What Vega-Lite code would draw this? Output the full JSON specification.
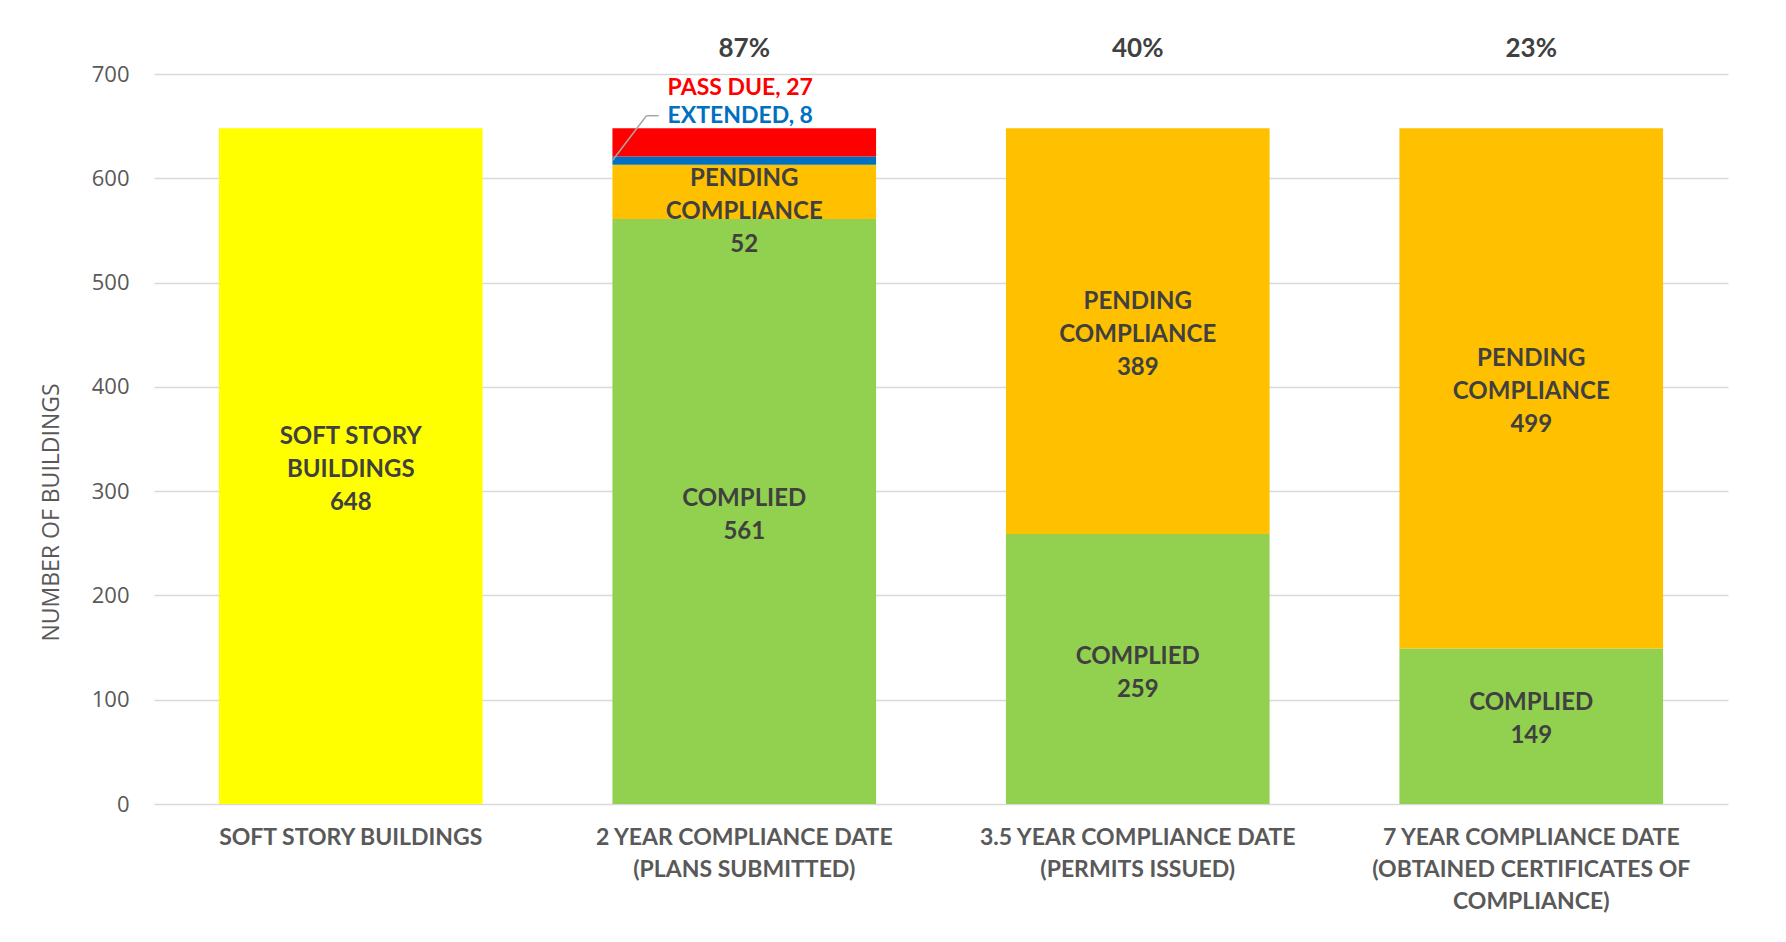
{
  "$schema": "https://vega.github.io/schema/vega-lite/v6.json",
  "width": 1574,
  "height": 730,
  "autosize": {"type": "none"},
  "padding": {"left": 154, "top": 74, "right": 58, "bottom": 138},
  "background": "white",
  "config": {"view": {"stroke": null}, "font": "Lato"},
  "datasets": {
    "bars": [
      {"cat": "SOFT STORY BUILDINGS", "status": "SOFT STORY BUILDINGS", "value": 648, "ord": 0, "label": "SOFT STORY|BUILDINGS|648"},
      {"cat": "2 YEAR COMPLIANCE DATE|(PLANS SUBMITTED)", "status": "COMPLIED", "value": 561, "ord": 1, "label": "COMPLIED|561"},
      {"cat": "2 YEAR COMPLIANCE DATE|(PLANS SUBMITTED)", "status": "PENDING COMPLIANCE", "value": 52, "ord": 2, "label": "PENDING|COMPLIANCE|52"},
      {"cat": "2 YEAR COMPLIANCE DATE|(PLANS SUBMITTED)", "status": "EXTENDED", "value": 8, "ord": 3, "label": ""},
      {"cat": "2 YEAR COMPLIANCE DATE|(PLANS SUBMITTED)", "status": "PASS DUE", "value": 27, "ord": 4, "label": ""},
      {"cat": "3.5 YEAR COMPLIANCE DATE|(PERMITS ISSUED)", "status": "COMPLIED", "value": 259, "ord": 1, "label": "COMPLIED|259"},
      {"cat": "3.5 YEAR COMPLIANCE DATE|(PERMITS ISSUED)", "status": "PENDING COMPLIANCE", "value": 389, "ord": 2, "label": "PENDING|COMPLIANCE|389"},
      {"cat": "7 YEAR COMPLIANCE DATE|(OBTAINED CERTIFICATES OF|COMPLIANCE)", "status": "COMPLIED", "value": 149, "ord": 1, "label": "COMPLIED|149"},
      {"cat": "7 YEAR COMPLIANCE DATE|(OBTAINED CERTIFICATES OF|COMPLIANCE)", "status": "PENDING COMPLIANCE", "value": 499, "ord": 2, "label": "PENDING|COMPLIANCE|499"}
    ],
    "pct": [
      {"cat": "2 YEAR COMPLIANCE DATE|(PLANS SUBMITTED)", "text": "87%"},
      {"cat": "3.5 YEAR COMPLIANCE DATE|(PERMITS ISSUED)", "text": "40%"},
      {"cat": "7 YEAR COMPLIANCE DATE|(OBTAINED CERTIFICATES OF|COMPLIANCE)", "text": "23%"}
    ],
    "notes": [
      {"cat": "2 YEAR COMPLIANCE DATE|(PLANS SUBMITTED)", "status": "PASS DUE", "text": "PASS DUE, 27", "at": 687},
      {"cat": "2 YEAR COMPLIANCE DATE|(PLANS SUBMITTED)", "status": "EXTENDED", "text": "EXTENDED, 8", "at": 660}
    ],
    "leader": [
      {"cat": "2 YEAR COMPLIANCE DATE|(PLANS SUBMITTED)", "v": 617, "v2": 660},
      {"cat": "2 YEAR COMPLIANCE DATE|(PLANS SUBMITTED)", "v": 660, "v2": 660}
    ]
  },
  "encoding": {
    "x": {
      "field": "cat", "type": "nominal",
      "scale": {
        "domain": ["SOFT STORY BUILDINGS", "2 YEAR COMPLIANCE DATE|(PLANS SUBMITTED)", "3.5 YEAR COMPLIANCE DATE|(PERMITS ISSUED)", "7 YEAR COMPLIANCE DATE|(OBTAINED CERTIFICATES OF|COMPLIANCE)"],
        "paddingInner": 0.33, "paddingOuter": 0.165
      },
      "axis": {
        "title": null, "domain": false, "ticks": false, "labelAngle": 0,
        "labelFont": "Lato", "labelFontWeight": "bold", "labelFontSize": 23,
        "labelColor": "#595959", "labelPadding": 22, "labelLineHeight": 32,
        "labelExpr": "split(datum.label, '|')", "labelLimit": 500
      }
    }
  },
  "layer": [
    {
      "data": {"name": "bars"},
      "mark": {"type": "bar"},
      "encoding": {
        "y": {
          "field": "value", "type": "quantitative", "stack": "zero",
          "scale": {"domain": [0, 700], "nice": false},
          "axis": {
            "values": [0, 100, 200, 300, 400, 500, 600, 700],
            "grid": true, "gridColor": "#d9d9d9", "gridWidth": 1.5,
            "domain": false, "ticks": false,
            "labelFont": "Open Sans", "labelFontSize": 22, "labelColor": "#595959", "labelPadding": 25,
            "title": "NUMBER OF BUILDINGS", "titleFont": "Open Sans", "titleFontSize": 23,
            "titleFontWeight": "normal", "titleColor": "#595959",
            "titleX": -103, "titleY": 438, "titleAngle": -90, "titleAlign": "center", "titleBaseline": "middle"
          }
        },
        "color": {
          "field": "status", "type": "nominal", "legend": null,
          "scale": {
            "domain": ["SOFT STORY BUILDINGS", "COMPLIED", "PENDING COMPLIANCE", "EXTENDED", "PASS DUE"],
            "range": ["#FFFF00", "#92D050", "#FFC000", "#0070C0", "#FF0000"]
          }
        },
        "order": {"field": "ord", "type": "quantitative"}
      }
    },
    {
      "data": {"name": "bars"},
      "transform": [
        {"stack": "value", "groupby": ["cat"], "sort": [{"field": "ord", "order": "ascending"}], "as": ["v0", "v1"]},
        {"calculate": "(datum.v0 + datum.v1) / 2", "as": "mid"},
        {"filter": "length(split(datum.label, '|')) == 3 && datum.value != 52"}
      ],
      "mark": {"type": "text", "lineBreak": "|", "fontSize": 24, "fontWeight": "bold", "font": "Lato", "fill": "#404040", "baseline": "middle", "lineHeight": 33, "dy": -29},
      "encoding": {
        "y": {"field": "mid", "type": "quantitative", "title": "NUMBER OF BUILDINGS"},
        "text": {"field": "label"}
      }
    },
    {
      "data": {"name": "bars"},
      "transform": [
        {"stack": "value", "groupby": ["cat"], "sort": [{"field": "ord", "order": "ascending"}], "as": ["v0", "v1"]},
        {"calculate": "(datum.v0 + datum.v1) / 2", "as": "mid"},
        {"filter": "length(split(datum.label, '|')) == 2 && datum.value != 149"}
      ],
      "mark": {"type": "text", "lineBreak": "|", "fontSize": 24, "fontWeight": "bold", "font": "Lato", "fill": "#404040", "baseline": "middle", "lineHeight": 33, "dy": -12},
      "encoding": {
        "y": {"field": "mid", "type": "quantitative", "title": "NUMBER OF BUILDINGS"},
        "text": {"field": "label"}
      }
    },
    {
      "data": {"name": "bars"},
      "transform": [
        {"stack": "value", "groupby": ["cat"], "sort": [{"field": "ord", "order": "ascending"}], "as": ["v0", "v1"]},
        {"calculate": "(datum.v0 + datum.v1) / 2", "as": "mid"},
        {"filter": "datum.value == 149"}
      ],
      "mark": {"type": "text", "lineBreak": "|", "fontSize": 24, "fontWeight": "bold", "font": "Lato", "fill": "#404040", "baseline": "middle", "lineHeight": 33, "dy": -23},
      "encoding": {
        "y": {"field": "mid", "type": "quantitative", "title": "NUMBER OF BUILDINGS"},
        "text": {"field": "label"}
      }
    },
    {
      "data": {"name": "bars"},
      "transform": [
        {"stack": "value", "groupby": ["cat"], "sort": [{"field": "ord", "order": "ascending"}], "as": ["v0", "v1"]},
        {"calculate": "(datum.v0 + datum.v1) / 2", "as": "mid"},
        {"filter": "datum.value == 52"}
      ],
      "mark": {"type": "text", "lineBreak": "|", "fontSize": 24, "fontWeight": "bold", "font": "Lato", "fill": "#404040", "baseline": "middle", "lineHeight": 33, "dy": -13},
      "encoding": {
        "y": {"field": "mid", "type": "quantitative", "title": "NUMBER OF BUILDINGS"},
        "text": {"field": "label"}
      }
    },
    {
      "data": {"name": "pct"},
      "mark": {"type": "text", "fontSize": 26, "fontWeight": "bold", "font": "Lato", "fill": "#404040", "baseline": "middle"},
      "encoding": {
        "y": {"datum": 724, "type": "quantitative", "title": "NUMBER OF BUILDINGS"},
        "text": {"field": "text"}
      }
    },
    {
      "data": {"name": "notes"},
      "mark": {"type": "text", "fontSize": 23, "fontWeight": "bold", "font": "Lato", "baseline": "middle", "dx": -4},
      "encoding": {
        "y": {"field": "at", "type": "quantitative", "title": "NUMBER OF BUILDINGS"},
        "color": {"field": "status", "type": "nominal", "legend": null},
        "text": {"field": "text"}
      }
    },
    {
      "data": {"name": "leader"},
      "transform": [{"filter": "datum.v != datum.v2"}],
      "mark": {"type": "rule", "color": "#a6a6a6", "strokeWidth": 1.5},
      "encoding": {
        "x": {"field": "cat", "type": "nominal", "bandPosition": 0},
        "x2": {"field": "cat", "bandPosition": 0.129},
        "y": {"field": "v", "type": "quantitative", "title": "NUMBER OF BUILDINGS"},
        "y2": {"field": "v2"}
      }
    },
    {
      "data": {"name": "leader"},
      "transform": [{"filter": "datum.v == datum.v2"}],
      "mark": {"type": "rule", "color": "#a6a6a6", "strokeWidth": 1.5},
      "encoding": {
        "x": {"field": "cat", "type": "nominal", "bandPosition": 0.129},
        "x2": {"field": "cat", "bandPosition": 0.175},
        "y": {"field": "v", "type": "quantitative", "title": "NUMBER OF BUILDINGS"}
      }
    }
  ]
}
